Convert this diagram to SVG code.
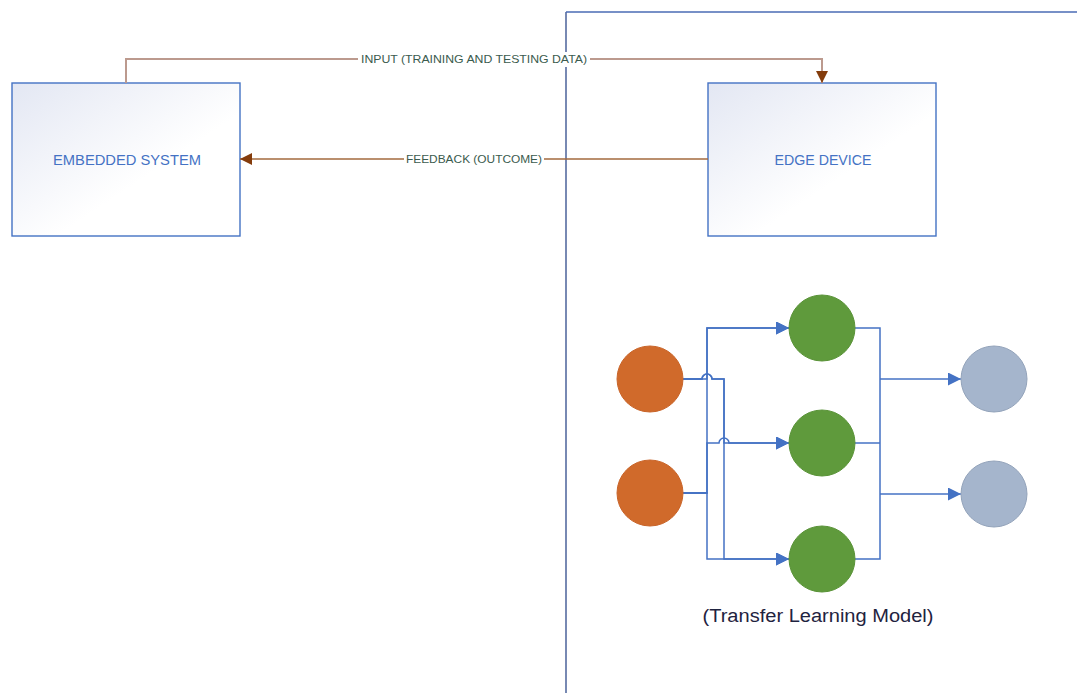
<svg xmlns="http://www.w3.org/2000/svg" width="1077" height="693" viewBox="0 0 1077 693">
  <style>
    .box { stroke: #4472C4; stroke-width: 1.4; fill: url(#boxFill); }
    .boxText { font-family: "Liberation Sans", Arial, sans-serif; font-size: 15px; fill: #4472C4; text-anchor: middle; }
    .lbl { font-family: "Liberation Sans", Arial, sans-serif; font-size: 10.5px; fill: #3B5B4E; text-anchor: middle; }
    .net { fill: none; stroke: #4472C4; stroke-width: 1.5; }
    .inp { fill: #D06A2B; stroke: #C9652A; stroke-width: 1; }
    .hid { fill: #5F9A3C; stroke: #5A9338; stroke-width: 1; }
    .out { fill: #A5B5CC; stroke: #93A3BA; stroke-width: 1; }
  </style>
  <defs>
    <linearGradient id="boxFill" x1="0" y1="0" x2="1" y2="1">
      <stop offset="0" stop-color="#E3E7F3"/>
      <stop offset="0.6" stop-color="#FFFFFF"/>
      <stop offset="1" stop-color="#FFFFFF"/>
    </linearGradient>
    <marker id="brownArrow" viewBox="0 0 10 10" refX="10" refY="5" markerWidth="12" markerHeight="12" markerUnits="userSpaceOnUse" orient="auto">
      <path d="M0,0 L10,5 L0,10 z" fill="#843C0C"/>
    </marker>
    <marker id="blueArrow" viewBox="0 0 10 10" refX="10" refY="5" markerWidth="13" markerHeight="13" markerUnits="userSpaceOnUse" orient="auto">
      <path d="M0,0 L10,5 L0,10 z" fill="#4472C4"/>
    </marker>
  </defs>

  <rect width="1077" height="693" fill="#FFFFFF"/>

  <!-- partition lines -->
  <g id="partition">
    <line x1="566" y1="12" x2="566" y2="693" stroke="#2F4A8A" stroke-width="1.3"/>
    <line x1="566" y1="12" x2="1077" y2="12" stroke="#4A6BB5" stroke-width="1.3"/>
  </g>

  <!-- nodes -->
  <g id="embedded-system">
    <rect class="box" x="12" y="83" width="228" height="153"/>
    <text class="boxText" x="127" y="165" textLength="148" lengthAdjust="spacingAndGlyphs">EMBEDDED SYSTEM</text>
  </g>
  <g id="edge-device">
    <rect class="box" x="708" y="83" width="228" height="153"/>
    <text class="boxText" x="823" y="165" textLength="97" lengthAdjust="spacingAndGlyphs">EDGE DEVICE</text>
  </g>

  <!-- connectors -->
  <g id="connectors">
    <path d="M126,83 V59 H822 V83" fill="none" stroke="#BC9A8E" stroke-width="2" marker-end="url(#brownArrow)"/>
    <path d="M708,159 H240" fill="none" stroke="#A36A3E" stroke-width="1.5" marker-end="url(#brownArrow)"/>
    <rect x="358" y="52" width="232" height="15" fill="#FFFFFF"/>
    <text class="lbl" x="474" y="63" textLength="226" lengthAdjust="spacingAndGlyphs">INPUT (TRAINING AND TESTING DATA)</text>
    <rect x="404" y="152" width="140" height="15" fill="#FFFFFF"/>
    <text class="lbl" x="474" y="163" textLength="136" lengthAdjust="spacingAndGlyphs">FEEDBACK (OUTCOME)</text>

    <!-- input layer to hidden layer -->
    <path class="net" d="M683,379 H707 V328 H789" marker-end="url(#blueArrow)"/>
    <path class="net" d="M683,379 H702 A5,5 0 0 1 712,379 H724 V443 H789" marker-end="url(#blueArrow)"/>
    <path class="net" d="M683,379 H702 A5,5 0 0 1 712,379 H724 V559 H789" marker-end="url(#blueArrow)"/>
    <path class="net" d="M683,493 H707 V328 H789" marker-end="url(#blueArrow)"/>
    <path class="net" d="M683,493 H707 V443 H719 A5,5 0 0 1 729,443 H789" marker-end="url(#blueArrow)"/>
    <path class="net" d="M683,493 H707 V559 H789" marker-end="url(#blueArrow)"/>

    <!-- hidden layer to output layer -->
    <path class="net" d="M855,328 H880 V559 H855"/>
    <path class="net" d="M855,443 H880"/>
    <path class="net" d="M880,379 H961" marker-end="url(#blueArrow)"/>
    <path class="net" d="M880,494 H961" marker-end="url(#blueArrow)"/>
  </g>

  <!-- neural network nodes -->
  <g id="input-1"><circle class="inp" cx="650" cy="379" r="33"/></g>
  <g id="input-2"><circle class="inp" cx="650" cy="493" r="33"/></g>
  <g id="hidden-1"><circle class="hid" cx="822" cy="328" r="33"/></g>
  <g id="hidden-2"><circle class="hid" cx="822" cy="443" r="33"/></g>
  <g id="hidden-3"><circle class="hid" cx="822" cy="559" r="33"/></g>
  <g id="output-1"><circle class="out" cx="994" cy="379" r="33"/></g>
  <g id="output-2"><circle class="out" cx="994" cy="494" r="33"/></g>

  <g id="model-caption">
    <text x="818" y="622" font-family="Liberation Sans, Arial, sans-serif" font-size="18" fill="#1F2340" text-anchor="middle" textLength="231" lengthAdjust="spacingAndGlyphs">(Transfer Learning Model)</text>
  </g>
</svg>
